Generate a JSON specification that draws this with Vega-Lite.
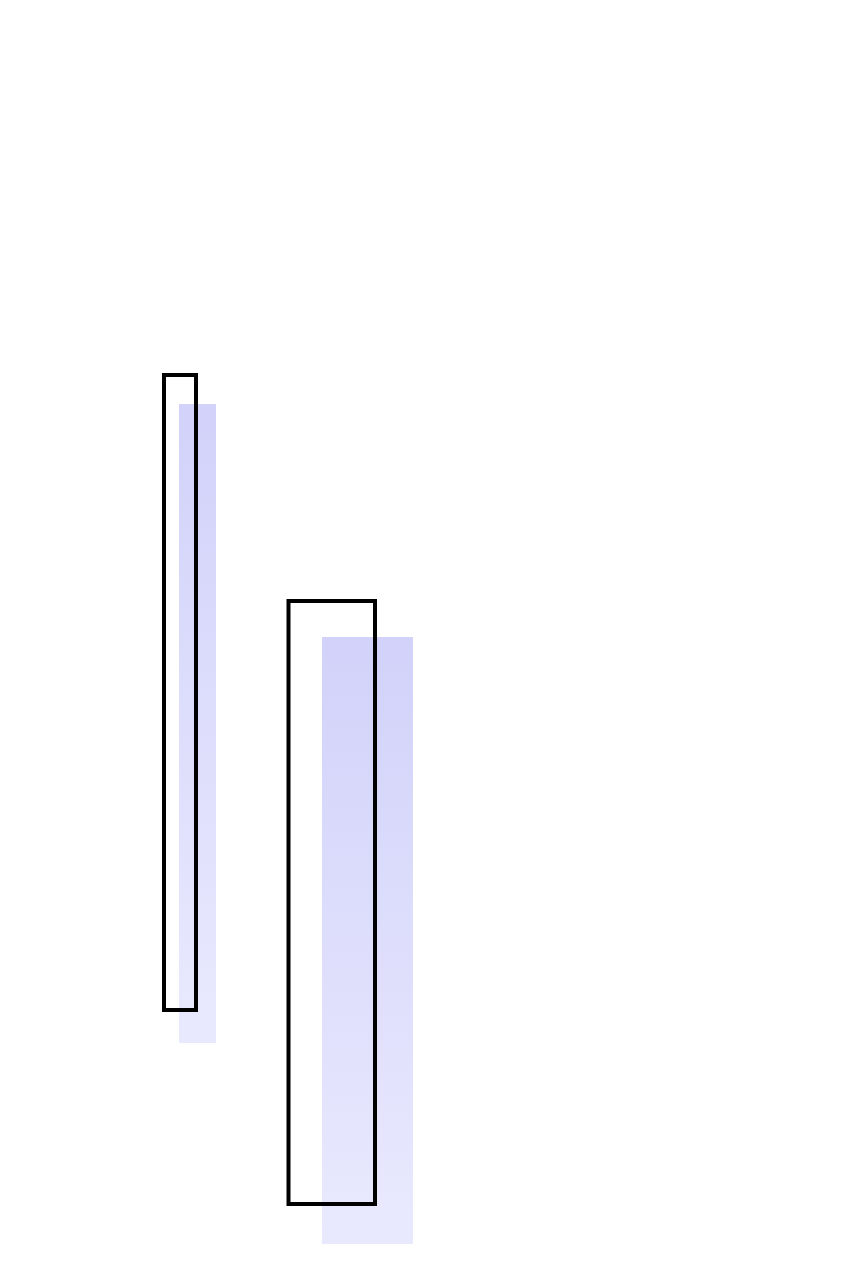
{
  "$schema": "https://vega.github.io/schema/vega-lite/v6.json",
  "width": 850,
  "height": 1268,
  "padding": 0,
  "autosize": {"type": "fit", "contains": "padding"},
  "background": "white",
  "config": {"view": {"stroke": null}},
  "datasets": {
    "shaded": [
      {"name": "A", "x0": 179, "x1": 216, "lo": 225, "hi": 864},
      {"name": "B", "x0": 322, "x1": 413, "lo": 24, "hi": 631}
    ],
    "outlined": [
      {"name": "A", "x0": 164, "x1": 196, "lo": 258, "hi": 893},
      {"name": "B", "x0": 288.5, "x1": 375, "lo": 64, "hi": 667}
    ]
  },
  "layer": [
    {
      "data": {"name": "shaded"},
      "mark": {
        "type": "rect",
        "color": {
          "gradient": "linear",
          "x1": 0, "y1": 0, "x2": 0, "y2": 1,
          "stops": [
            {"offset": 0, "color": "#d2d2fa"},
            {"offset": 1, "color": "#e9e9fe"}
          ]
        }
      },
      "encoding": {
        "x": {"field": "x0", "type": "quantitative", "scale": {"domain": [0, 850], "nice": false, "zero": false}, "axis": null},
        "x2": {"field": "x1"},
        "y": {"field": "hi", "type": "quantitative", "scale": {"domain": [0, 1268], "nice": false, "zero": false}, "axis": null},
        "y2": {"field": "lo"}
      }
    },
    {
      "data": {"name": "outlined"},
      "mark": {"type": "rect", "fill": null, "fillOpacity": 0, "stroke": "#000000", "strokeWidth": 4, "strokeJoin": "miter"},
      "encoding": {
        "x": {"field": "x0", "type": "quantitative", "scale": {"domain": [0, 850], "nice": false, "zero": false}, "axis": null},
        "x2": {"field": "x1"},
        "y": {"field": "hi", "type": "quantitative", "scale": {"domain": [0, 1268], "nice": false, "zero": false}, "axis": null},
        "y2": {"field": "lo"}
      }
    }
  ]
}
